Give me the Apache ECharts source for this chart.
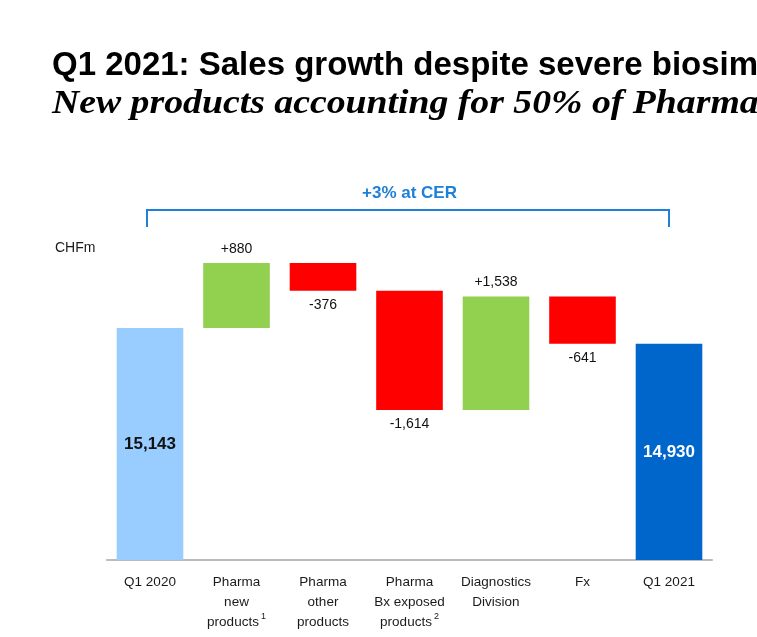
<!DOCTYPE html>
<html><head><meta charset="utf-8">
<script src="https://cdn.jsdelivr.net/npm/echarts@6/dist/echarts.min.js"></script>
<style>html,body{margin:0;padding:0;background:#fff;overflow:hidden}#c{width:757px;height:637px}</style>
</head><body><div id="c"></div>
<script>
var categories = ['Q1 2020','Pharma\nnew\nproducts{sup|1}','Pharma\nother\nproducts','Pharma\nBx exposed\nproducts{sup|2}','Diagnostics\nDivision','Fx','Q1 2021'];
var startTotal = 15143;
var deltas = [880, -376, -1614, 1538, -641];
var endTotal = 14930;
var colors = ['#99ccff','#92d050','#ff0000','#ff0000','#92d050','#ff0000','#0066cc'];

var FONT = '"Liberation Sans Narrow","Liberation Sans",Arial,sans-serif';
function fmt(v){return Math.abs(v).toLocaleString('en-US');}

var base = [0], vis = [startTotal];
var running = startTotal;
deltas.forEach(function(d){
  if (d >= 0){ base.push(running); vis.push(d); }
  else { base.push(running + d); vis.push(-d); }
  running += d;
});
base.push(0); vis.push(endTotal);

var visData = vis.map(function(v,i){
  var item = {value: v, itemStyle:{color: colors[i]}};
  if (i === 0 || i === vis.length-1){
    var val = i===0 ? startTotal : endTotal;
    item.label = {show:true, position:'inside', formatter: fmt(val), fontWeight:'bold', fontSize:17,
      color: i===0 ? '#111' : '#fff', fontFamily: '"Liberation Sans",Arial,sans-serif'};
  } else {
    var d = deltas[i-1];
    item.label = {show:true, position: d>=0 ? 'top':'bottom', distance:7,
      formatter: (d>=0?'+':'-') + fmt(d), fontSize:14, color:'#111', fontFamily: FONT};
  }
  return item;
});

var chart = echarts.init(document.getElementById('c'));
chart.setOption({
  animation:false,
  backgroundColor:'#fff',
  grid:{left:106.75, right:44.75, top:191, bottom:77},
  xAxis:{type:'category', data:categories,
    axisLine:{show:true, lineStyle:{color:'#a6a6a6', width:1.5}},
    axisTick:{show:false},
    axisLabel:{interval:0, color:'#1a1a1a', fontSize:13.5, lineHeight:20, margin:12, fontFamily:FONT,
      rich:{sup:{fontSize:9, verticalAlign:'top', padding:[0,0,8,2], fontFamily:FONT, color:'#1a1a1a'}}}},
  yAxis:{type:'value', min:12000, max:17000, show:false, splitLine:{show:false}},
  series:[
    {type:'bar', stack:'w', data:base, itemStyle:{color:'transparent'}, barWidth:'77%', silent:true},
    {type:'bar', stack:'w', data:visData, barWidth:'77%'}
  ]
});

var x0 = chart.convertToPixel({xAxisIndex:0}, 0);
var x1 = chart.convertToPixel({xAxisIndex:0}, categories.length-1);
var blue = '#1e80d6';
chart.setOption({graphic:[
  {type:'text', x:52, y:49, scaleX:1.0, style:{text:'Q1 2021: Sales growth despite severe biosimilar erosion', font:'bold 33px "Liberation Sans",Arial,sans-serif', fill:'#000', verticalAlign:'top'}},
  {type:'text', x:52, y:87, scaleX:1.11, style:{text:'New products accounting for 50% of Pharma Division sales', font:'italic bold 34px "Liberation Serif","DejaVu Serif",serif', fill:'#000', verticalAlign:'top'}},
  {type:'polyline', shape:{points:[[x0-3,227],[x0-3,210],[x1,210],[x1,227]]}, style:{stroke:blue, lineWidth:2, fill:null}},
  {type:'text', x:(x0+x1)/2, y:193, style:{text:'+3% at CER', font:'bold 17px '+FONT, fill:blue, align:'center', verticalAlign:'middle'}},
  {type:'text', x:55, y:248, style:{text:'CHFm', font:'14px '+FONT, fill:'#1a1a1a', verticalAlign:'middle'}}
]});
</script></body></html>
